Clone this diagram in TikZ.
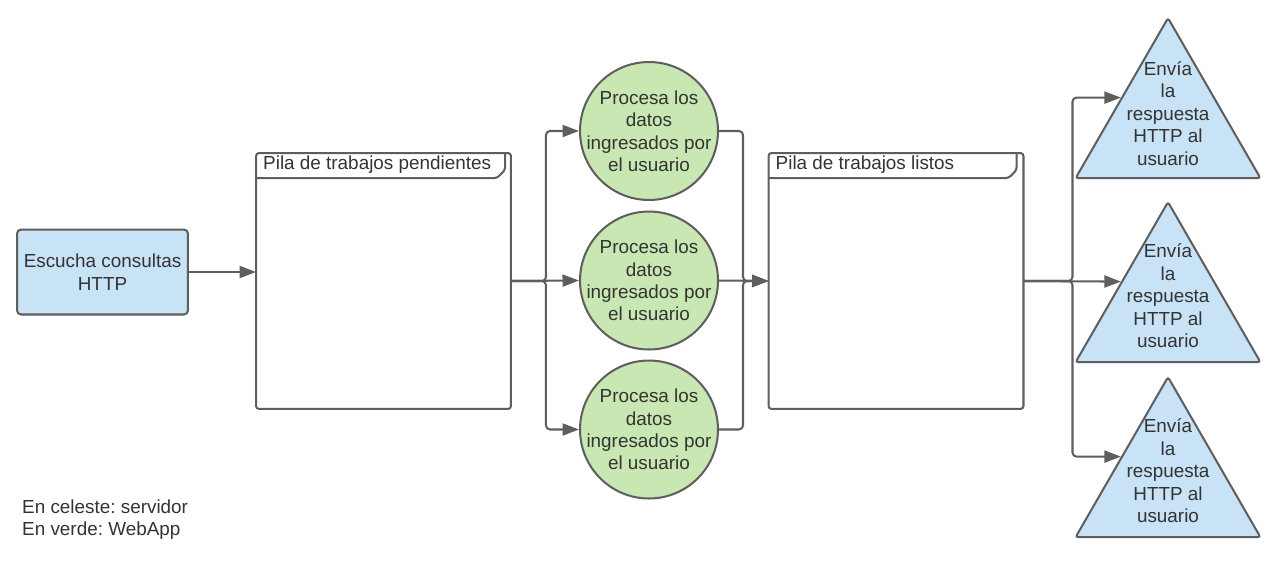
\documentclass[tikz,border=0pt]{standalone}
\usepackage{fontspec}
\setmainfont{Liberation Sans}
\frenchspacing
\usetikzlibrary{arrows.meta,shapes.geometric,calc}
\definecolor{celeste}{HTML}{C7E3F5}
\definecolor{verde}{HTML}{C9E7B2}
\definecolor{borde}{HTML}{5E5E5E}
\definecolor{texto}{HTML}{333333}

\begin{document}
\begin{tikzpicture}[
    x=0.02cm, y=-0.02cm,
    every node/.style={align=center, text=texto,
      font=\fontsize{10.75}{12.8}\selectfont},
    linea/.style={draw=borde, line width=1.15pt},
    server/.style={linea, fill=celeste, rounded corners=2.3pt,
      minimum width=3.42cm, minimum height=1.7cm},
    pila/.style={linea, rounded corners=1.7pt, outer sep=0pt,
      minimum width=5.1cm, minimum height=5.12cm},
    webapp/.style={linea, circle, fill=verde,
      minimum size=2.76cm, inner sep=0pt},
    respuesta/.style={linea, regular polygon, regular polygon sides=3,
      fill=celeste, rounded corners=1.5pt, minimum size=4.27cm, inner sep=0pt},
    flecha/.style={draw=borde, line width=1.15pt, rounded corners=2.3pt,
      -{Triangle[length=0.33cm, width=0.24cm]}}
  ]
    \useasboundingbox (0,0) rectangle (1280,565);

    \node[server] (esc) at (102.5,272) {Escucha consultas\\HTTP};

    % pilas de trabajos
    \node[pila] (pend) at (383.5,281) {};
    \draw[linea, rounded corners=1.5pt] ($(pend.north west)+(0,25)$)
      -- ++(241,0) -- ++(8,-8) -- ++(0,-17);
    \node[anchor=west] (pendt) at ($(pend.north west)+(1,12)$)
      {Pila de trabajos pendientes};

    \node[pila] (listos) at (896,281) {};
    \draw[linea, rounded corners=1.5pt] ($(listos.north west)+(0,25)$)
      -- ++(240,0) -- ++(8,-8) -- ++(0,-17);
    \node[anchor=west] (listost) at ($(listos.north west)+(1,12)$)
      {Pila de trabajos listos};

    % procesos de la WebApp
    \node[webapp] (p1) at (649,131) {};
    \node (p1t) at (p1) {Procesa los\\datos\\ingresados por\\el usuario};
    \node[webapp] (p2) at (649,280.5) {};
    \node (p2t) at (p2) {Procesa los\\datos\\ingresados por\\el usuario};
    \node[webapp] (p3) at (649,429.5) {};
    \node (p3t) at (p3) {Procesa los\\datos\\ingresados por\\el usuario};

    % respuestas del servidor
    \node[respuesta] (r1) at (1168,124.8) {};
    \node (r1t) at (1168,113.5) {Envía\\la\\respuesta\\HTTP al\\usuario};
    \node[respuesta] (r2) at (1168,308.8) {};
    \node (r2t) at (1168,296) {Envía\\la\\respuesta\\HTTP al\\usuario};
    \node[respuesta] (r3) at (1168,483.8) {};
    \node (r3t) at (1168,471) {Envía\\la\\respuesta\\HTTP al\\usuario};

    \node[anchor=west, align=left] (leyenda) at (16,519.5)
      {En celeste: servidor\\En verde: WebApp};

    % conectores
    \draw[flecha] (esc.east) -- (esc.east -| pend.west);
    \draw[flecha] (pend.east) -- ++(35,0) |- (p1.west);
    \draw[flecha] (pend.east) -- (p2.west);
    \draw[flecha] (pend.east) -- ++(35,0) |- (p3.west);
    \draw[flecha] (p1.east) -- ++(24,0) |- (listos.west);
    \draw[flecha] (p2.east) -- (listos.west);
    \draw[flecha] (p3.east) -- ++(24,0) |- (listos.west);
    \draw[flecha] (listos.east) -- ++(49,0) |- (r1.side 1);
    \draw[flecha] (listos.east) -- (r2.side 1);
    \draw[flecha] (listos.east) -- ++(49,0) |- (r3.side 1);
  \end{tikzpicture}
\end{document}
